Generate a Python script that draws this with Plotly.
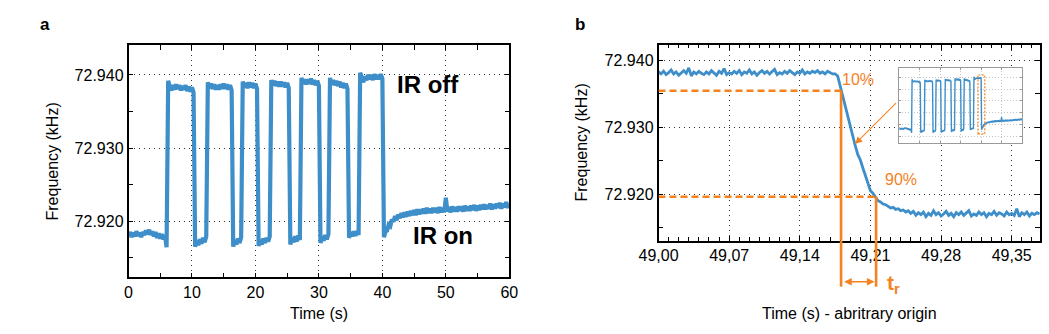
import plotly.graph_objects as go

# ---------------- data ----------------
# Panel a: frequency sampled every 0.25 s from 0 to 60 s
step_a = 0.25
freq_a = [
    # IR on 0-6 s
    72.9179, 72.9185, 72.9178, 72.9184, 72.9179, 72.9186, 72.9180, 72.9184, 72.9178, 72.9185,
    72.9181, 72.9187, 72.9182, 72.9188, 72.9181, 72.9186, 72.9179, 72.9185, 72.9177, 72.9183,
    72.9176, 72.9182, 72.9175, 72.9181, 72.9164,
    # IR off
    72.9392, 72.9384, 72.9379, 72.9386, 72.9380, 72.9387, 72.9381, 72.9386, 72.9379, 72.9385,
    72.9380, 72.9386, 72.9378, 72.9384, 72.9377, 72.9383, 72.9376,
    # IR on
    72.9165, 72.9173, 72.9167, 72.9175, 72.9169, 72.9177, 72.9171, 72.9179,
    # IR off
    72.9390, 72.9382, 72.9388, 72.9381, 72.9387, 72.9380, 72.9386, 72.9380, 72.9387, 72.9381,
    72.9388, 72.9381, 72.9387, 72.9380, 72.9386, 72.9379,
    # IR on
    72.9165, 72.9174, 72.9168, 72.9176, 72.9170, 72.9178,
    # IR off
    72.9391, 72.9383, 72.9389, 72.9382, 72.9390, 72.9383, 72.9389, 72.9382, 72.9388, 72.9381,
    # IR on
    72.9166, 72.9174, 72.9168, 72.9176, 72.9170, 72.9177, 72.9172, 72.9179,
    # IR off
    72.9393, 72.9386, 72.9392, 72.9385, 72.9391, 72.9384, 72.9391, 72.9384, 72.9390, 72.9383,
    72.9389, 72.9382,
    # IR on
    72.9168, 72.9177, 72.9171, 72.9179, 72.9172, 72.9180, 72.9174,
    # IR off
    72.9396, 72.9388, 72.9394, 72.9387, 72.9394, 72.9388, 72.9395, 72.9387, 72.9393, 72.9386,
    72.9392, 72.9385,
    # IR on
    72.9170, 72.9179, 72.9173, 72.9181, 72.9175, 72.9182,
    # IR off
    72.9396, 72.9387, 72.9393, 72.9386, 72.9392, 72.9385, 72.9391, 72.9383, 72.9389, 72.9382,
    72.9388, 72.9381,
    # IR on
    72.9177, 72.9185, 72.9179, 72.9186, 72.9180, 72.9186, 72.9181,
    # IR off
    72.9403, 72.9396, 72.9390, 72.9398, 72.9393, 72.9400, 72.9394, 72.9400, 72.9393, 72.9401,
    72.9394, 72.9400, 72.9394, 72.9401, 72.9395,
    # IR on, 40.25-60 s
    72.9178, 72.9186, 72.9187, 72.9195, 72.9193, 72.9202, 72.9199, 72.9207,
    72.9201, 72.9209, 72.9204, 72.9211, 72.9205, 72.9212, 72.9206, 72.9213,
    72.9207, 72.9214, 72.9208, 72.9215, 72.9208, 72.9216, 72.9209, 72.9216,
    72.9210, 72.9217, 72.9210, 72.9218, 72.9211, 72.9217, 72.9211, 72.9218,
    72.9212, 72.9218, 72.9211, 72.9219, 72.9212, 72.9218, 72.9212, 72.9232,
    72.9213, 72.9219, 72.9212, 72.9220, 72.9213, 72.9219, 72.9213, 72.9220,
    72.9214, 72.9220, 72.9213, 72.9221, 72.9214, 72.9220, 72.9214, 72.9221,
    72.9215, 72.9222, 72.9214, 72.9221, 72.9215, 72.9222, 72.9216, 72.9223,
    72.9216, 72.9222, 72.9217, 72.9224, 72.9216, 72.9223, 72.9217, 72.9224,
    72.9218, 72.9225, 72.9217, 72.9224, 72.9219, 72.9226, 72.9218, 72.9224,
]
time_a = [i * step_a for i in range(len(freq_a))]

# Panel b: zoom on one transition, sampled every 2.5 ms from 49.000 s
t0_b = 49.0
step_b = 0.0025
freq_b = [
    72.9383, 72.9380, 72.9384, 72.9379, 72.9382, 72.9386, 72.9380, 72.9383, 72.9378, 72.9382,
    72.9385, 72.9381, 72.9389, 72.9377, 72.9383, 72.9380, 72.9384, 72.9381, 72.9379, 72.9383,
    72.9380, 72.9385, 72.9382, 72.9378, 72.9384, 72.9381, 72.9388, 72.9379, 72.9382, 72.9380,
    72.9384, 72.9381, 72.9385, 72.9379, 72.9383, 72.9381, 72.9386, 72.9380, 72.9383, 72.9378,
    72.9382, 72.9385, 72.9381, 72.9384, 72.9380, 72.9383, 72.9387, 72.9379, 72.9382, 72.9380,
    72.9384, 72.9381, 72.9385, 72.9382, 72.9379, 72.9383, 72.9381, 72.9386, 72.9380, 72.9383,
    72.9381, 72.9384, 72.9382, 72.9385, 72.9381, 72.9383, 72.9380, 72.9384, 72.9382, 72.9380,
    72.9380, 72.9377, 72.9362, 72.9347, 72.9331, 72.9314, 72.9300, 72.9285, 72.9272, 72.9259,
    72.9251, 72.9239, 72.9228, 72.9216, 72.9205, 72.9201, 72.9196, 72.9190, 72.9188, 72.9185,
    72.9184, 72.9181, 72.9179, 72.9180, 72.9177, 72.9178, 72.9175, 72.9176, 72.9173, 72.9175,
    72.9171, 72.9174, 72.9168, 72.9172, 72.9169, 72.9173, 72.9166, 72.9171, 72.9168, 72.9175,
    72.9169, 72.9172, 72.9167, 72.9170, 72.9174, 72.9168, 72.9171, 72.9166, 72.9172, 72.9169,
    72.9173, 72.9168, 72.9171, 72.9175, 72.9167, 72.9170, 72.9168, 72.9173, 72.9169, 72.9172,
    72.9166, 72.9171, 72.9169, 72.9174, 72.9168, 72.9172, 72.9170, 72.9167, 72.9173, 72.9169,
    72.9171, 72.9168, 72.9178, 72.9166, 72.9172, 72.9169, 72.9173, 72.9167, 72.9171, 72.9169,
    72.9172, 72.9170,
]
time_b = [t0_b + i * step_b for i in range(len(freq_b))]

# axis ticks
ticks_a_x = [0, 10, 20, 30, 40, 50, 60]
ticks_a_x_minor = [5, 15, 25, 35, 45, 55]
ticks_y = [72.920, 72.930, 72.940]
ticks_y_text = ["72.920", "72.930", "72.940"]
ticks_y_minor = [72.915, 72.925, 72.935]
ticks_b_x = [49.00, 49.07, 49.14, 49.21, 49.28, 49.35]
ticks_b_x_text = ["49,00", "49,07", "49,14", "49,21", "49,28", "49,35"]
ticks_b_x_minor = [round(49.0 + 0.01 * k, 2) for k in range(38)]
ticks_inset_y = [72.915, 72.920, 72.925, 72.930, 72.935, 72.940]

# rise-time markers (10% and 90%)
t10, f10 = 49.1809, 72.93549
t90, f90 = 49.2156, 72.9196

# ---------------- style ----------------
BLUE = "#3d8ec9"
ORANGE = "#f5821f"
FONT = "Liberation Sans, Arial, Helvetica, sans-serif"
W, H = 1049, 334

fig = go.Figure()
fig.add_trace(go.Scatter(x=time_a, y=freq_a, mode="lines",
                         line=dict(color=BLUE, width=4.2), xaxis="x", yaxis="y",
                         hoverinfo="skip"))
fig.add_trace(go.Scatter(x=time_b, y=freq_b, mode="lines",
                         line=dict(color=BLUE, width=2.8), xaxis="x2", yaxis="y2",
                         hoverinfo="skip"))
fig.add_trace(go.Scatter(x=time_a, y=freq_a, mode="lines",
                         line=dict(color=BLUE, width=1.4), xaxis="x3", yaxis="y3",
                         hoverinfo="skip"))

common = dict(showline=True, linecolor="black", linewidth=1.5, mirror="ticks",
              ticks="inside", ticklen=5, tickwidth=1.2, tickcolor="black",
              showgrid=True, gridcolor="#333", gridwidth=1, griddash="1px,4px",
              zeroline=False, automargin=False,
              tickfont=dict(family=FONT, size=16, color="black"))

def px_x(p):
    return p / W

def px_y(p):
    return 1 - p / H

fig.update_layout(
    template="none",
    width=W, height=H, margin=dict(l=0, r=0, t=0, b=0, pad=0), autosize=False,
    paper_bgcolor="white", plot_bgcolor="white", showlegend=False,
    font=dict(family=FONT, size=16, color="black"),
    xaxis=dict(domain=[px_x(128.5), px_x(509.3)], range=[0, 60], anchor="y",
               tickvals=ticks_a_x,
               minor=dict(tickvals=ticks_a_x_minor, ticks="inside", ticklen=5,
                          tickwidth=1.2, tickcolor="black", showgrid=False),
               **common),
    yaxis=dict(domain=[px_y(277.3), px_y(45)], range=[72.9123, 72.9441], anchor="x",
               tickvals=ticks_y, ticktext=ticks_y_text,
               minor=dict(tickvals=ticks_y_minor, ticks="inside", ticklen=5,
                          tickwidth=1.2, tickcolor="black", showgrid=False),
               **common),
    xaxis2=dict(domain=[px_x(658.5), px_x(1040)], range=[49.0, 49.378], anchor="y2",
                tickvals=ticks_b_x, ticktext=ticks_b_x_text,
                minor=dict(tickvals=ticks_b_x_minor, ticks="inside", ticklen=3.5,
                           tickwidth=1.2, tickcolor="black", showgrid=False),
                **common),
    yaxis2=dict(domain=[px_y(240.5), px_y(45)], range=[72.91303, 72.94234], anchor="x2",
                tickvals=ticks_y, ticktext=ticks_y_text,
                minor=dict(tickvals=ticks_y_minor, ticks="inside", ticklen=5,
                           tickwidth=1.2, tickcolor="black", showgrid=False),
                **common),
    xaxis3=dict(domain=[px_x(899.3), px_x(1022)], range=[0, 60], anchor="y3",
                showline=True, linecolor="#9a9a9a", linewidth=1, mirror="ticks",
                ticks="inside", ticklen=2, tickcolor="#9a9a9a", dtick=10,
                showticklabels=False, showgrid=True, gridcolor="#c4c4c4",
                griddash="1px,2px", zeroline=False, automargin=False),
    yaxis3=dict(domain=[px_y(142.7), px_y(67.7)], range=[72.9123, 72.9441], anchor="x3",
                showline=True, linecolor="#9a9a9a", linewidth=1, mirror="ticks",
                ticks="inside", ticklen=2, tickcolor="#9a9a9a",
                tickvals=ticks_inset_y, showticklabels=False, showgrid=True,
                gridcolor="#c4c4c4", griddash="1px,2px", zeroline=False, automargin=False),
)

# ---------------- shapes ----------------
dash_line = dict(color=ORANGE, width=2.6, dash="7px,4px")
solid_line = dict(color=ORANGE, width=2.6)
shapes = [
    dict(type="line", xref="x2", yref="y2", x0=49.0, x1=t10, y0=f10, y1=f10, line=dash_line),
    dict(type="line", xref="x2", yref="y2", x0=49.0, x1=t90, y0=f90, y1=f90, line=dash_line),
    dict(type="line", xref="x2", yref="y2", x0=t10, x1=t10, y0=f10, y1=72.91303, line=solid_line),
    dict(type="line", xref="x2", yref="y2", x0=t90, x1=t90, y0=f90, y1=72.91303, line=solid_line),
    dict(type="line", xref="x2", yref="y2 domain", x0=t10, x1=t10, y0=0, y1=-0.236, line=solid_line),
    dict(type="line", xref="x2", yref="y2 domain", x0=t90, x1=t90, y0=0, y1=-0.236, line=solid_line),
    dict(type="rect", xref="x3", yref="y3", x0=38.5, x1=41.8, y0=72.9160, y1=72.9410,
         line=dict(color=ORANGE, width=1.2, dash="2px,1.5px")),
]
fig.update_layout(shapes=shapes)

# ---------------- annotations ----------------
ann = []
def text(x, y, s, size=16, color="black", bold=False, xref="paper", yref="paper", angle=0):
    ann.append(dict(x=x, y=y, xref=xref, yref=yref, text=("<b>%s</b>" % s) if bold else s,
                    showarrow=False, textangle=angle, xanchor="center", yanchor="middle",
                    font=dict(family=FONT, size=size, color=color)))

text(px_x(45), px_y(25), "a", size=17, bold=True)
text(px_x(580), px_y(25), "b", size=17, bold=True)
text(px_x(52), px_y(161.5), "Frequency (kHz)", angle=-90)
text(px_x(318.9), px_y(313), "Time (s)")
text(px_x(580.5), px_y(143), "Frequency (kHz)", angle=-90)
text(px_x(849.3), px_y(313), "Time (s) - abritrary origin")
text(47.12, 72.93863, "IR off", size=24, bold=True, xref="x", yref="y")
text(49.56, 72.91797, "IR on", size=24, bold=True, xref="x", yref="y")
text(49.1973, 72.93724, "10%", color=ORANGE, xref="x2", yref="y2")
text(49.2404, 72.92225, "90%", color=ORANGE, xref="x2", yref="y2")
text(49.2328, -0.22, "t<sub>r</sub>", size=21, color=ORANGE, bold=True, xref="x2", yref="y2 domain")

# arrow pointing from inset to the curve
ann.append(dict(x=49.1948, y=72.9275, xref="x2", yref="y2",
                ax=49.2368, ay=72.93384, axref="x2", ayref="y2",
                text="", showarrow=True, arrowhead=2, arrowsize=1.3, arrowwidth=1.1,
                arrowcolor=ORANGE, standoff=0))
# double arrow for rise time
ann.append(dict(x=t90, y=-0.211, xref="x2", yref="y2 domain",
                ax=t10, ay=-0.211, axref="x2", ayref="y2 domain",
                text="", showarrow=True, arrowhead=2, startarrowhead=2, arrowside="end+start",
                arrowsize=1.1, startarrowsize=1.1, arrowwidth=1.4, arrowcolor=ORANGE,
                standoff=1.5, startstandoff=1.5))
fig.update_layout(annotations=ann)

fig.write_html("out.html", config={"displayModeBar": False},
               post_script="document.body.style.margin='0';document.body.style.overflow='hidden';")
